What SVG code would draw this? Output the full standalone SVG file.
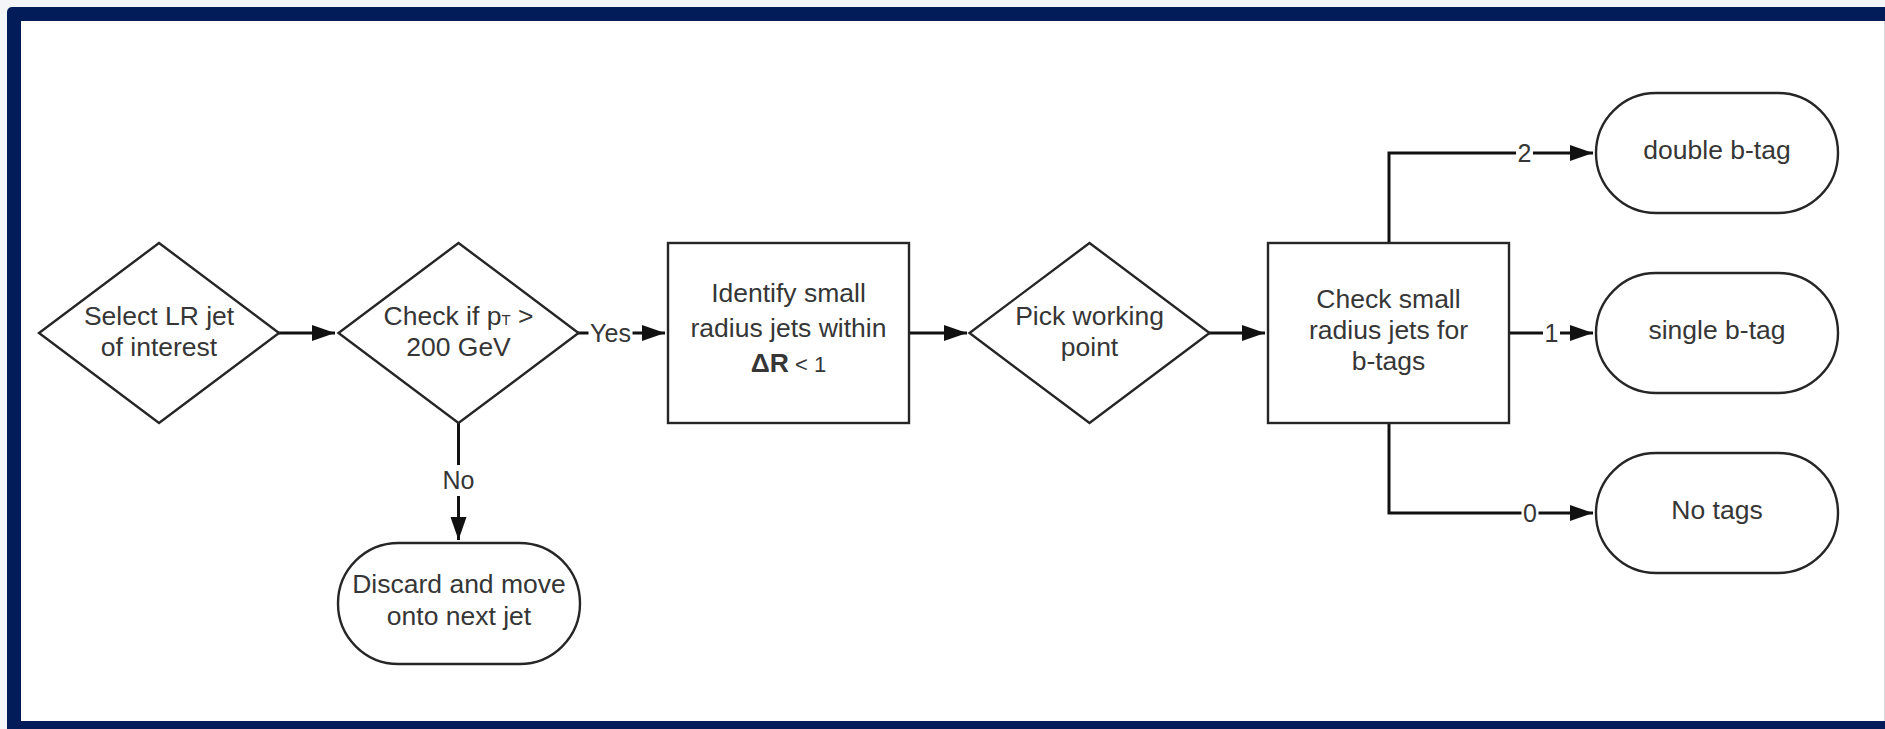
<svg xmlns="http://www.w3.org/2000/svg" width="1885" height="729" viewBox="0 0 1885 729">
<style>
.shape{fill:#ffffff;stroke:#262626;stroke-width:2.4}
.t{font-family:"Liberation Sans",Arial,sans-serif;font-size:26.5px;fill:#363636;text-anchor:middle}
.lbl{font-family:"Liberation Sans",Arial,sans-serif;font-size:25px;fill:#363636;text-anchor:middle}
.conn{fill:none;stroke:#111111;stroke-width:3}
.lblbg{fill:#ffffff}
</style>
<defs>
<marker id="arr" markerUnits="userSpaceOnUse" markerWidth="24" markerHeight="17" refX="23" refY="8" orient="auto">
<path d="M0,0 L23,8 L0,16 z" fill="#111111"/>
</marker>
</defs>
<rect x="0" y="0" width="1885" height="729" fill="#f4f5f8"/>
<rect x="7" y="7" width="1895" height="735" rx="5" fill="#021c5a"/>
<rect x="21" y="21" width="1863" height="700" fill="#ffffff"/>
<line x1="1884.5" y1="21" x2="1884.5" y2="721" stroke="#d6d7de" stroke-width="1"/>

<g id="connectors">
<path class="conn" d="M278,333 H335" marker-end="url(#arr)"/>
<path class="conn" d="M578,333 H665" marker-end="url(#arr)"/>
<path class="conn" d="M909,333 H967" marker-end="url(#arr)"/>
<path class="conn" d="M1209,333 H1265" marker-end="url(#arr)"/>
<path class="conn" d="M458.5,423 V540" marker-end="url(#arr)"/>
<path class="conn" d="M1389,243 V153 H1593" marker-end="url(#arr)"/>
<path class="conn" d="M1509,333 H1593" marker-end="url(#arr)"/>
<path class="conn" d="M1389,423 V513 H1593" marker-end="url(#arr)"/>
<rect class="lblbg" x="588.5" y="320" width="44" height="26"/>
<text class="lbl" x="610.5" y="341.5">Yes</text>
<rect class="lblbg" x="442" y="465" width="33" height="31"/>
<text class="lbl" x="458.5" y="489">No</text>
<rect class="lblbg" x="1516" y="140" width="17" height="26"/>
<text class="lbl" x="1524.5" y="161.5">2</text>
<rect class="lblbg" x="1543" y="320" width="17" height="26"/>
<text class="lbl" x="1551.5" y="341.5">1</text>
<rect class="lblbg" x="1521.5" y="500" width="17" height="26"/>
<text class="lbl" x="1530" y="521.5">0</text>
</g>

<g id="select-lr-jet">
<polygon class="shape" points="159,243 279,333 159,423 39,333"/>
<text class="t" x="159" y="325">Select LR jet</text>
<text class="t" x="159" y="356">of interest</text>
</g>

<g id="check-pt">
<polygon class="shape" points="458.5,243 578.5,333 458.5,423 338.5,333"/>
<text class="t" x="458.5" y="325">Check if p<tspan font-size="15">T</tspan> &gt;</text>
<text class="t" x="458.5" y="356">200 GeV</text>
</g>

<g id="discard">
<rect class="shape" x="338" y="543" width="242" height="121" rx="60.5" ry="60.5"/>
<text class="t" x="459" y="593">Discard and move</text>
<text class="t" x="459" y="625">onto next jet</text>
</g>

<g id="identify-small-radius">
<rect class="shape" x="668" y="243" width="241" height="180"/>
<text class="t" x="788.5" y="302">Identify small</text>
<text class="t" x="788.5" y="337">radius jets within</text>
<text class="t" x="788.5" y="372"><tspan font-weight="bold">ΔR</tspan><tspan font-size="22"> &lt; 1</tspan></text>
</g>

<g id="pick-working-point">
<polygon class="shape" points="1089.5,243 1209.5,333 1089.5,423 969.5,333"/>
<text class="t" x="1089.5" y="325">Pick working</text>
<text class="t" x="1089.5" y="356">point</text>
</g>

<g id="check-btags">
<rect class="shape" x="1268" y="243" width="241" height="180"/>
<text class="t" x="1388.5" y="308">Check small</text>
<text class="t" x="1388.5" y="339">radius jets for</text>
<text class="t" x="1388.5" y="370">b-tags</text>
</g>

<g id="double-btag">
<rect class="shape" x="1596" y="93" width="242" height="120" rx="60" ry="60"/>
<text class="t" x="1717" y="158.5">double b-tag</text>
</g>

<g id="single-btag">
<rect class="shape" x="1596" y="273" width="242" height="120" rx="60" ry="60"/>
<text class="t" x="1717" y="338.5">single b-tag</text>
</g>

<g id="no-tags">
<rect class="shape" x="1596" y="453" width="242" height="120" rx="60" ry="60"/>
<text class="t" x="1717" y="518.5">No tags</text>
</g>
</svg>
